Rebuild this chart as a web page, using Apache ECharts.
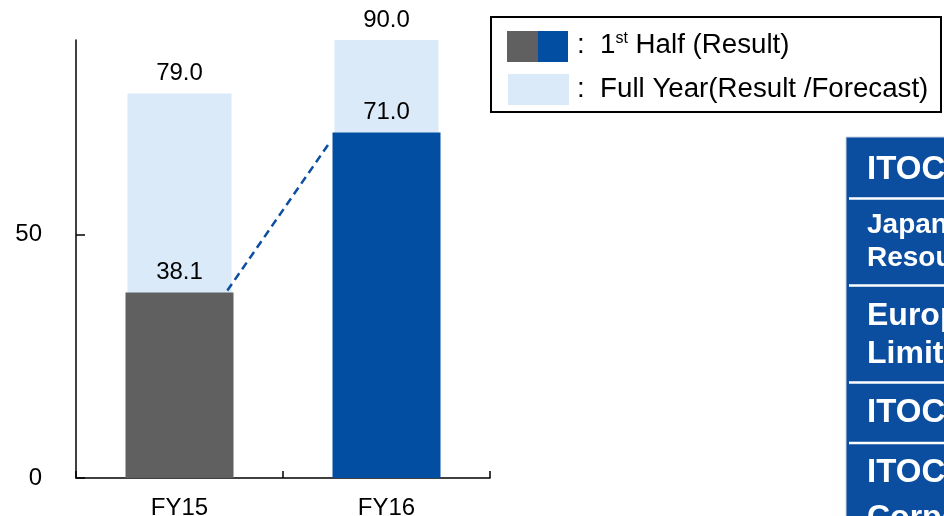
<!DOCTYPE html>
<html>
<head>
<meta charset="utf-8">
<script src="https://cdn.jsdelivr.net/npm/echarts@6/dist/echarts.min.js"></script>
<style>
  html, body { margin: 0; padding: 0; background: #ffffff; }
  #chart { width: 944px; height: 516px; }
</style>
</head>
<body>
<div id="chart"></div>
<script>
// Fiscal-year categories and values
const categories = ['FY15', 'FY16'];
const fullYear = [79.0, 90.0];     // full year result / forecast
const firstHalf = [38.1, 71.0];    // 1st half result
const yTickValues = [0, 50];
const legendHalf = ['1', 'st', ' Half (Result)'];
const legendFull = 'Full Year(Result /Forecast)';
const tableRows = [
  ['ITOCHU'],
  ['Japan', 'Resources'],
  ['Europe', 'Limited'],
  ['ITOCHU'],
  ['ITOCHU', 'Corporation']
];

const GRAY = '#606060';
const BLUE = '#024EA2';
const LIGHT = '#DAEAF8';
const FONT = '"Liberation Sans", Arial, Helvetica, sans-serif';

const chart = echarts.init(document.getElementById('chart'), null, { renderer: 'canvas' });

const halfColors = [GRAY, BLUE];
const valueLabel = {
  show: true,
  position: 'top',
  distance: 8,
  color: '#000',
  fontFamily: FONT,
  fontSize: 24,
  formatter: p => Number(p.value).toFixed(1)
};

// dashed connector between the tops of the 1st-half bars
function renderConnector(params, api) {
  const i = api.value(0);
  if (i + 1 >= firstHalf.length) return null;
  const band = api.size([1, 0])[0];
  const half = band * 0.26;
  const p0 = api.coord([i, firstHalf[i]]);
  const p1 = api.coord([i + 1, firstHalf[i + 1]]);
  return {
    type: 'line',
    shape: { x1: p0[0] + half - 6, y1: p0[1] - 2, x2: p1[0] - half - 3, y2: p1[1] + 10 },
    style: { stroke: '#0B4EA2', lineWidth: 2.5, lineDash: [8, 5] },
    silent: true
  };
}

// right-hand panel rows
const panel = { x: 846, y: 137, textX: 867 };
const separators = [198.5, 285.5, 382.5, 443];
const rowText = [
  [{ t: tableRows[0][0], y: 169.5, s: 33 }],
  [{ t: tableRows[1][0], y: 225, s: 28 }, { t: tableRows[1][1], y: 258, s: 28 }],
  [{ t: tableRows[2][0], y: 316, s: 32 }, { t: tableRows[2][1], y: 354, s: 32 }],
  [{ t: tableRows[3][0], y: 413, s: 33 }],
  [{ t: tableRows[4][0], y: 473, s: 33 }, { t: tableRows[4][1], y: 518, s: 32 }]
];

const LEGEND_FONT = 27.7;
const graphics = [
  // legend frame
  { type: 'rect', shape: { x: 491, y: 17, width: 450, height: 95 },
    style: { fill: 'none', stroke: '#000', lineWidth: 2 } },
  { type: 'rect', shape: { x: 507, y: 31, width: 31, height: 31 }, style: { fill: GRAY } },
  { type: 'rect', shape: { x: 538, y: 31, width: 30, height: 31 }, style: { fill: BLUE } },
  { type: 'rect', shape: { x: 508, y: 74, width: 61, height: 31 }, style: { fill: LIGHT } },
  { type: 'text', x: 577, y: 45,
    style: {
      text: ':  {n|' + legendHalf[0] + '}{s|' + legendHalf[1] + '}{n|' + legendHalf[2] + '}',
      font: LEGEND_FONT + 'px ' + FONT, fill: '#000', verticalAlign: 'middle',
      rich: {
        n: { fontSize: LEGEND_FONT, fontFamily: FONT, fill: '#000' },
        s: { fontSize: 16, fontFamily: FONT, fill: '#000', verticalAlign: 'top' }
      }
    } },
  { type: 'text', x: 577, y: 89,
    style: { text: ':  ' + legendFull, font: LEGEND_FONT + 'px ' + FONT, fill: '#000', verticalAlign: 'middle' } },
  // panel background
  { type: 'rect', shape: { x: panel.x, y: panel.y, width: 120, height: 400 },
    style: { fill: '#0B4EA0', stroke: '#C9D4E4', lineWidth: 1 } }
];
separators.forEach(y => {
  graphics.push({ type: 'line', shape: { x1: 849, y1: y, x2: 960, y2: y },
    style: { stroke: '#ffffff', lineWidth: 2.5 } });
});
rowText.forEach(row => row.forEach(r => {
  graphics.push({ type: 'text', x: panel.textX, y: r.y,
    style: { text: r.t, font: 'bold ' + r.s + 'px ' + FONT, fill: '#ffffff', verticalAlign: 'middle' } });
}));

const option = {
  animation: false,
  backgroundColor: '#ffffff',
  textStyle: { fontFamily: FONT },
  grid: { left: 76, right: 454, top: 40, bottom: 38, containLabel: false, outerBoundsMode: 'none' },
  xAxis: [
    {
      type: 'category',
      data: categories,
      boundaryGap: true,
      axisLine: { lineStyle: { color: '#000', width: 1.5 } },
      axisTick: { show: true, inside: true, length: 7, lineStyle: { color: '#000', width: 1.5 } },
      axisLabel: { color: '#000', fontSize: 24, fontFamily: FONT, margin: 18 }
    },
    {
      type: 'category',
      data: categories,
      show: false,
      position: 'bottom'
    }
  ],
  yAxis: {
    type: 'value',
    min: 0,
    max: 90,
    interval: 50,
    axisLine: { show: true, lineStyle: { color: '#000', width: 1.5 } },
    axisTick: { show: true, inside: true, length: 9, customValues: yTickValues,
      lineStyle: { color: '#000', width: 1.5 } },
    axisLabel: { color: '#000', fontSize: 24, fontFamily: FONT, margin: 34, customValues: yTickValues },
    splitLine: { show: false }
  },
  series: [
    {
      name: 'Full Year(Result /Forecast)',
      type: 'bar',
      xAxisIndex: 1,
      barWidth: 104,
      data: fullYear,
      itemStyle: { color: LIGHT },
      label: valueLabel,
      z: 2
    },
    {
      name: '1st Half (Result)',
      type: 'bar',
      xAxisIndex: 0,
      barWidth: 108,
      data: firstHalf.map((v, i) => ({ value: v, itemStyle: { color: halfColors[i] } })),
      label: valueLabel,
      z: 3
    },
    {
      type: 'custom',
      xAxisIndex: 0,
      renderItem: renderConnector,
      data: firstHalf.map((v, i) => [i, v]),
      z: 4,
      silent: true
    }
  ],
  graphic: graphics
};

chart.setOption(option);
</script>
</body>
</html>
